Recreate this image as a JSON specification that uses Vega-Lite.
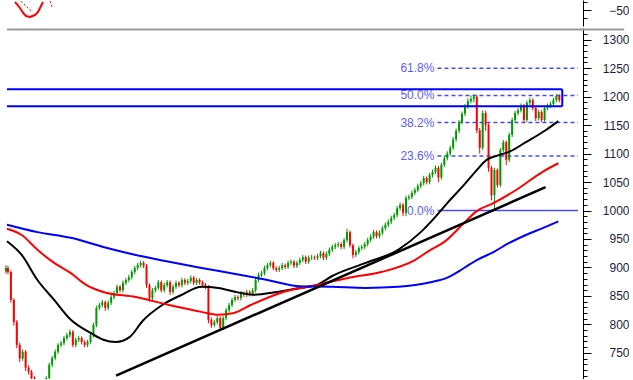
{
  "$schema": "https://vega.github.io/schema/vega-lite/v6.json",
  "background": "white",
  "padding": 0,
  "spacing": 2,
  "config": {"view": {"stroke": null}},
  "datasets": {
    "osc": [
      {"s": "main", "t": 15, "v": -40}, {"s": "main", "t": 16.5, "v": -42}, {"s": "main", "t": 20, "v": -47.5}, {"s": "main", "t": 23, "v": -53.5}, {"s": "main", "t": 26, "v": -57.5}, {"s": "main", "t": 30, "v": -58.8}, {"s": "main", "t": 35, "v": -56.2}, {"s": "main", "t": 38, "v": -52.5}, {"s": "main", "t": 41, "v": -45}, {"s": "main", "t": 43, "v": -40},
      {"s": "sig", "t": 21, "v": -39}, {"s": "sig", "t": 24, "v": -42.5}, {"s": "sig", "t": 29, "v": -49}, {"s": "sig", "t": 33, "v": -52.5},
      {"s": "sig2", "t": 50, "v": -39}, {"s": "sig2", "t": 52, "v": -46}
    ],
    "candles": [
      {"t":1,"o":893,"c":899,"h":904,"l":889},{"t":3,"o":899,"c":892,"h":903,"l":888},{"t":6,"o":892,"c":843,"h":895,"l":838},{"t":9,"o":843,"c":804,"h":846,"l":798},{"t":12,"o":804,"c":764,"h":808,"l":758},{"t":15,"o":764,"c":740,"h":768,"l":734},{"t":18,"o":740,"c":752,"h":756,"l":736},{"t":21,"o":752,"c":724,"h":755,"l":718},{"t":24,"o":724,"c":717,"h":728,"l":712},{"t":27,"o":717,"c":706,"h":720,"l":700},{"t":30,"o":706,"c":694,"h":709,"l":688},{"t":33,"o":694,"c":688,"h":698,"l":682},{"t":36,"o":688,"c":685,"h":692,"l":680},{"t":39,"o":685,"c":694,"h":698,"l":681},{"t":42,"o":694,"c":706,"h":709,"l":690},{"t":45,"o":706,"c":729,"h":733,"l":702},{"t":48,"o":729,"c":741,"h":745,"l":725},{"t":51,"o":741,"c":752,"h":756,"l":737},{"t":54,"o":752,"c":764,"h":767,"l":748},{"t":57,"o":764,"c":767,"h":771,"l":760},{"t":60,"o":767,"c":776,"h":780,"l":763},{"t":63,"o":776,"c":781,"h":785,"l":772},{"t":66,"o":781,"c":787,"h":791,"l":777},{"t":69,"o":787,"c":764,"h":790,"l":760},{"t":72,"o":764,"c":773,"h":777,"l":760},{"t":75,"o":773,"c":776,"h":780,"l":769},{"t":78,"o":776,"c":769,"h":779,"l":765},{"t":81,"o":769,"c":764,"h":772,"l":760},{"t":84,"o":764,"c":769,"h":773,"l":760},{"t":87,"o":769,"c":781,"h":785,"l":766},{"t":90,"o":781,"c":799,"h":803,"l":777},{"t":93,"o":799,"c":829,"h":833,"l":795},{"t":96,"o":829,"c":834,"h":838,"l":825},{"t":99,"o":834,"c":839,"h":843,"l":830},{"t":102,"o":839,"c":829,"h":842,"l":824},{"t":105,"o":829,"c":838,"h":842,"l":825},{"t":108,"o":838,"c":848,"h":852,"l":834},{"t":111,"o":848,"c":855,"h":859,"l":844},{"t":114,"o":855,"c":866,"h":870,"l":851},{"t":117,"o":866,"c":860,"h":869,"l":856},{"t":120,"o":860,"c":873,"h":877,"l":856},{"t":123,"o":873,"c":878,"h":882,"l":869},{"t":126,"o":878,"c":883,"h":887,"l":874},{"t":129,"o":883,"c":892,"h":896,"l":879},{"t":132,"o":892,"c":899,"h":903,"l":888},{"t":135,"o":899,"c":904,"h":908,"l":895},{"t":138,"o":904,"c":908,"h":912,"l":900},{"t":141,"o":908,"c":903,"h":911,"l":899},{"t":144,"o":903,"c":869,"h":906,"l":864},{"t":147,"o":869,"c":846,"h":872,"l":840},{"t":150,"o":846,"c":860,"h":864,"l":842},{"t":153,"o":860,"c":864,"h":868,"l":856},{"t":156,"o":864,"c":874,"h":878,"l":860},{"t":159,"o":874,"c":860,"h":877,"l":856},{"t":162,"o":860,"c":869,"h":873,"l":856},{"t":165,"o":869,"c":874,"h":878,"l":865},{"t":168,"o":874,"c":857,"h":877,"l":852},{"t":171,"o":857,"c":866,"h":870,"l":853},{"t":174,"o":866,"c":873,"h":877,"l":862},{"t":177,"o":873,"c":869,"h":876,"l":865},{"t":180,"o":869,"c":878,"h":882,"l":865},{"t":183,"o":878,"c":873,"h":881,"l":869},{"t":186,"o":873,"c":876,"h":880,"l":869},{"t":189,"o":876,"c":882,"h":886,"l":872},{"t":192,"o":882,"c":873,"h":885,"l":869},{"t":195,"o":873,"c":878,"h":882,"l":869},{"t":198,"o":878,"c":874,"h":881,"l":870},{"t":201,"o":874,"c":869,"h":877,"l":865},{"t":204,"o":869,"c":866,"h":873,"l":862},{"t":207,"o":866,"c":808,"h":869,"l":802},{"t":210,"o":808,"c":799,"h":812,"l":794},{"t":213,"o":799,"c":804,"h":808,"l":795},{"t":216,"o":804,"c":811,"h":815,"l":800},{"t":219,"o":811,"c":794,"h":814,"l":789},{"t":222,"o":794,"c":811,"h":815,"l":790},{"t":225,"o":811,"c":825,"h":829,"l":807},{"t":228,"o":825,"c":834,"h":838,"l":821},{"t":231,"o":834,"c":843,"h":847,"l":830},{"t":234,"o":843,"c":848,"h":852,"l":839},{"t":237,"o":848,"c":846,"h":851,"l":842},{"t":240,"o":846,"c":855,"h":859,"l":842},{"t":243,"o":855,"c":852,"h":858,"l":848},{"t":246,"o":852,"c":857,"h":861,"l":848},{"t":249,"o":857,"c":853,"h":860,"l":849},{"t":252,"o":853,"c":860,"h":864,"l":849},{"t":255,"o":860,"c":878,"h":882,"l":856},{"t":258,"o":878,"c":887,"h":891,"l":874},{"t":261,"o":887,"c":890,"h":894,"l":883},{"t":264,"o":890,"c":899,"h":903,"l":886},{"t":267,"o":899,"c":904,"h":908,"l":895},{"t":270,"o":904,"c":908,"h":912,"l":900},{"t":273,"o":908,"c":899,"h":911,"l":895},{"t":276,"o":899,"c":896,"h":902,"l":892},{"t":279,"o":896,"c":899,"h":903,"l":892},{"t":282,"o":899,"c":904,"h":908,"l":895},{"t":285,"o":904,"c":901,"h":907,"l":897},{"t":288,"o":901,"c":908,"h":912,"l":897},{"t":291,"o":908,"c":910,"h":914,"l":904},{"t":294,"o":910,"c":903,"h":913,"l":899},{"t":297,"o":903,"c":908,"h":912,"l":899},{"t":300,"o":908,"c":913,"h":917,"l":904},{"t":303,"o":913,"c":918,"h":922,"l":909},{"t":306,"o":918,"c":910,"h":921,"l":906},{"t":309,"o":910,"c":917,"h":921,"l":906},{"t":312,"o":917,"c":918,"h":922,"l":913},{"t":315,"o":918,"c":917,"h":921,"l":913},{"t":318,"o":917,"c":920,"h":924,"l":913},{"t":321,"o":920,"c":925,"h":929,"l":916},{"t":324,"o":925,"c":917,"h":928,"l":913},{"t":327,"o":917,"c":924,"h":928,"l":913},{"t":330,"o":924,"c":931,"h":935,"l":920},{"t":333,"o":931,"c":936,"h":940,"l":927},{"t":336,"o":936,"c":939,"h":943,"l":932},{"t":339,"o":939,"c":941,"h":945,"l":935},{"t":342,"o":941,"c":936,"h":944,"l":932},{"t":345,"o":936,"c":948,"h":952,"l":932},{"t":348,"o":948,"c":962,"h":968,"l":944},{"t":351,"o":962,"c":939,"h":965,"l":935},{"t":354,"o":939,"c":922,"h":942,"l":916},{"t":357,"o":922,"c":927,"h":931,"l":918},{"t":360,"o":927,"c":934,"h":938,"l":923},{"t":363,"o":934,"c":936,"h":940,"l":930},{"t":366,"o":936,"c":941,"h":945,"l":932},{"t":369,"o":941,"c":948,"h":952,"l":937},{"t":372,"o":948,"c":954,"h":958,"l":944},{"t":375,"o":954,"c":962,"h":966,"l":950},{"t":378,"o":962,"c":955,"h":965,"l":951},{"t":381,"o":955,"c":961,"h":965,"l":951},{"t":384,"o":961,"c":969,"h":973,"l":957},{"t":387,"o":969,"c":975,"h":979,"l":965},{"t":390,"o":975,"c":980,"h":984,"l":971},{"t":393,"o":980,"c":987,"h":991,"l":976},{"t":396,"o":987,"c":992,"h":996,"l":983},{"t":399,"o":992,"c":1004,"h":1008,"l":988},{"t":402,"o":1004,"c":1010,"h":1014,"l":1000},{"t":405,"o":1010,"c":996,"h":1013,"l":990},{"t":408,"o":996,"c":1022,"h":1026,"l":990},{"t":411,"o":1022,"c":1024,"h":1028,"l":1018},{"t":414,"o":1024,"c":1031,"h":1035,"l":1020},{"t":417,"o":1031,"c":1036,"h":1040,"l":1027},{"t":420,"o":1036,"c":1043,"h":1047,"l":1032},{"t":423,"o":1043,"c":1048,"h":1052,"l":1039},{"t":426,"o":1048,"c":1057,"h":1061,"l":1044},{"t":429,"o":1057,"c":1050,"h":1060,"l":1046},{"t":432,"o":1050,"c":1062,"h":1066,"l":1046},{"t":435,"o":1062,"c":1068,"h":1072,"l":1058},{"t":438,"o":1068,"c":1075,"h":1079,"l":1064},{"t":441,"o":1075,"c":1058,"h":1078,"l":1050},{"t":444,"o":1058,"c":1080,"h":1084,"l":1054},{"t":447,"o":1080,"c":1092,"h":1096,"l":1076},{"t":450,"o":1092,"c":1100,"h":1104,"l":1088},{"t":453,"o":1100,"c":1110,"h":1114,"l":1096},{"t":456,"o":1110,"c":1125,"h":1129,"l":1106},{"t":459,"o":1125,"c":1140,"h":1144,"l":1121},{"t":462,"o":1140,"c":1155,"h":1159,"l":1136},{"t":465,"o":1155,"c":1170,"h":1174,"l":1151},{"t":468,"o":1170,"c":1183,"h":1187,"l":1166},{"t":471,"o":1183,"c":1192,"h":1197,"l":1179},{"t":474,"o":1192,"c":1196,"h":1202,"l":1188},{"t":477,"o":1196,"c":1200,"h":1204,"l":1190},{"t":480,"o":1200,"c":1141,"h":1203,"l":1136},{"t":483,"o":1141,"c":1110,"h":1145,"l":1100},{"t":486,"o":1110,"c":1171,"h":1176,"l":1106},{"t":489,"o":1171,"c":1150,"h":1175,"l":1140},{"t":492,"o":1150,"c":1075,"h":1153,"l":1068},{"t":495,"o":1075,"c":1027,"h":1078,"l":1018},{"t":498,"o":1027,"c":1071,"h":1075,"l":1000},{"t":501,"o":1071,"c":1045,"h":1074,"l":1040},{"t":504,"o":1045,"c":1106,"h":1110,"l":1041},{"t":507,"o":1106,"c":1120,"h":1124,"l":1102},{"t":510,"o":1120,"c":1089,"h":1123,"l":1080},{"t":513,"o":1089,"c":1133,"h":1137,"l":1085},{"t":516,"o":1133,"c":1159,"h":1163,"l":1129},{"t":519,"o":1159,"c":1171,"h":1175,"l":1155},{"t":522,"o":1171,"c":1176,"h":1180,"l":1167},{"t":525,"o":1176,"c":1184,"h":1188,"l":1172},{"t":528,"o":1184,"c":1159,"h":1187,"l":1154},{"t":531,"o":1159,"c":1189,"h":1193,"l":1155},{"t":534,"o":1189,"c":1194,"h":1198,"l":1185},{"t":537,"o":1194,"c":1180,"h":1197,"l":1176},{"t":540,"o":1180,"c":1162,"h":1183,"l":1157},{"t":543,"o":1162,"c":1173,"h":1177,"l":1158},{"t":546,"o":1173,"c":1159,"h":1176,"l":1155},{"t":549,"o":1159,"c":1180,"h":1184,"l":1155},{"t":552,"o":1180,"c":1184,"h":1188,"l":1176},{"t":555,"o":1184,"c":1187,"h":1191,"l":1180},{"t":558,"o":1187,"c":1194,"h":1198,"l":1183},{"t":561,"o":1194,"c":1201,"h":1205,"l":1190},{"t":564,"o":1201,"c":1194,"h":1204,"l":1190}
    ],
    "ma": [
      {"s":"ma50","t":2,"v":946},{"s":"ma50","t":17,"v":922},{"s":"ma50","t":33,"v":878},{"s":"ma50","t":50,"v":843},{"s":"ma50","t":67,"v":808},{"s":"ma50","t":87,"v":785},{"s":"ma50","t":100,"v":773},{"s":"ma50","t":113,"v":769},{"s":"ma50","t":127,"v":778},{"s":"ma50","t":140,"v":806},{"s":"ma50","t":160,"v":834},{"s":"ma50","t":180,"v":852},{"s":"ma50","t":200,"v":866},{"s":"ma50","t":217,"v":864},{"s":"ma50","t":235,"v":857},{"s":"ma50","t":253,"v":852},{"s":"ma50","t":277,"v":857},{"s":"ma50","t":300,"v":864},{"s":"ma50","t":317,"v":869},{"s":"ma50","t":333,"v":885},{"s":"ma50","t":367,"v":908},{"s":"ma50","t":400,"v":931},{"s":"ma50","t":423,"v":962},{"s":"ma50","t":437,"v":987},{"s":"ma50","t":450,"v":1013},{"s":"ma50","t":467,"v":1045},{"s":"ma50","t":480,"v":1071},{"s":"ma50","t":490,"v":1089},{"s":"ma50","t":500,"v":1096},{"s":"ma50","t":513,"v":1103},{"s":"ma50","t":530,"v":1120},{"s":"ma50","t":550,"v":1141},{"s":"ma50","t":563,"v":1157},
      {"s":"ma100","t":2,"v":968},{"s":"ma100","t":17,"v":957},{"s":"ma100","t":33,"v":931},{"s":"ma100","t":50,"v":908},{"s":"ma100","t":67,"v":890},{"s":"ma100","t":83,"v":869},{"s":"ma100","t":100,"v":857},{"s":"ma100","t":133,"v":848},{"s":"ma100","t":167,"v":834},{"s":"ma100","t":200,"v":822},{"s":"ma100","t":217,"v":817},{"s":"ma100","t":233,"v":820},{"s":"ma100","t":250,"v":834},{"s":"ma100","t":283,"v":857},{"s":"ma100","t":317,"v":869},{"s":"ma100","t":350,"v":882},{"s":"ma100","t":383,"v":892},{"s":"ma100","t":417,"v":913},{"s":"ma100","t":433,"v":931},{"s":"ma100","t":447,"v":945},{"s":"ma100","t":467,"v":978},{"s":"ma100","t":480,"v":999},{"s":"ma100","t":497,"v":1013},{"s":"ma100","t":520,"v":1036},{"s":"ma100","t":547,"v":1068},{"s":"ma100","t":563,"v":1083},
      {"s":"ma200","t":2,"v":975},{"s":"ma200","t":33,"v":962},{"s":"ma200","t":67,"v":952},{"s":"ma200","t":100,"v":936},{"s":"ma200","t":133,"v":922},{"s":"ma200","t":167,"v":910},{"s":"ma200","t":200,"v":899},{"s":"ma200","t":233,"v":889},{"s":"ma200","t":267,"v":878},{"s":"ma200","t":300,"v":867},{"s":"ma200","t":333,"v":866},{"s":"ma200","t":367,"v":864},{"s":"ma200","t":400,"v":866},{"s":"ma200","t":433,"v":874},{"s":"ma200","t":450,"v":882},{"s":"ma200","t":467,"v":899},{"s":"ma200","t":480,"v":913},{"s":"ma200","t":497,"v":927},{"s":"ma200","t":513,"v":943},{"s":"ma200","t":530,"v":957},{"s":"ma200","t":547,"v":969},{"s":"ma200","t":563,"v":981}
    ],
    "trend": [{"t": 113, "v": 710}, {"t": 550, "v": 1041}],
    "fib": [
      {"lvl": "61.8%", "v": 1250, "t0": 440, "t1": 583, "kind": "dash"},
      {"lvl": "50.0%", "v": 1202, "t0": 440, "t1": 583, "kind": "dash"},
      {"lvl": "38.2%", "v": 1154.5, "t0": 440, "t1": 583, "kind": "dash"},
      {"lvl": "23.6%", "v": 1095.5, "t0": 440, "t1": 583, "kind": "dash"},
      {"lvl": "0.0%", "v": 1000, "t0": 440, "t1": 583, "kind": "solid"}
    ],
    "box": [
      {"edge": "top", "t0": 2, "t1": 567, "lo": 1213, "hi": 1213},
      {"edge": "bottom", "t0": 2, "t1": 567, "lo": 1183, "hi": 1183},
      {"edge": "right", "t0": 567, "t1": 567, "lo": 1183, "hi": 1213}
    ]
  },
  "vconcat": [
    {
      "width": 583,
      "height": 26,
      "data": {"name": "osc"},
      "encoding": {
        "x": {"field": "t", "type": "quantitative", "scale": {"domain": [0, 583], "nice": false, "zero": false}, "axis": null},
        "y": {"field": "v", "type": "quantitative", "scale": {"domain": [-70, -37.5], "nice": false, "zero": false, "clamp": true},
          "axis": {"orient": "right", "values": [-40, -50, -60], "title": null, "grid": false, "format": "d",
            "labelExpr": "datum.value === -50 ? datum.label : ''",
            "labelFontSize": {"condition": {"test": "datum.value === -50", "value": 12}, "value": 0},
            "tickSize": {"condition": {"test": "datum.value === -50", "value": 8}, "value": 4},
            "labelAlign": "right", "labelPadding": 38, "labelFont": "Liberation Sans", "labelColor": "#1c1c3c",
            "domainColor": "#000000", "tickColor": "#000000", "labelOverlap": false}}
      },
      "layer": [
        {
          "transform": [{"filter": "datum.s === 'main'"}],
          "mark": {"type": "line", "color": "#ff0000", "strokeWidth": 2, "strokeJoin": "round", "clip": true}
        },
        {
          "transform": [{"filter": "datum.s !== 'main'"}],
          "mark": {"type": "line", "color": "#ff0000", "strokeWidth": 1, "strokeDash": [2, 2], "strokeJoin": "round", "clip": true},
          "encoding": {"detail": {"field": "s"}}
        }
      ]
    },
    {
      "width": 583,
      "height": 351,
      "encoding": {
        "x": {"type": "quantitative", "scale": {"domain": [0, 583], "nice": false, "zero": false}, "axis": null},
        "y": {"type": "quantitative", "scale": {"domain": [704.1, 1320.5], "nice": false, "zero": false, "clamp": true},
          "axis": {"orient": "right", "title": null, "grid": false, "format": "d",
            "values": [710,720,730,740,750,760,770,780,790,800,810,820,830,840,850,860,870,880,890,900,910,920,930,940,950,960,970,980,990,1000,1010,1020,1030,1040,1050,1060,1070,1080,1090,1100,1110,1120,1130,1140,1150,1160,1170,1180,1190,1200,1210,1220,1230,1240,1250,1260,1270,1280,1290,1300,1310],
            "labelExpr": "datum.value % 50 === 0 ? datum.label : ''",
            "labelFontSize": {"condition": {"test": "datum.value % 50 === 0", "value": 12}, "value": 0},
            "tickSize": {"condition": {"test": "datum.value % 50 === 0", "value": 8}, "value": 4},
            "labelAlign": "right", "labelPadding": 38, "labelFont": "Liberation Sans", "labelColor": "#1c1c3c",
            "domainColor": "#000000", "tickColor": "#000000", "labelOverlap": false}}
      },
      "layer": [
        {
          "data": {"name": "fib"},
          "mark": {"type": "rule", "strokeWidth": 1.5, "color": "#4a4af5", "clip": true},
          "encoding": {
            "x": {"field": "t0", "type": "quantitative"},
            "x2": {"field": "t1"},
            "y": {"field": "v", "type": "quantitative"},
            "strokeDash": {"field": "kind", "type": "nominal", "scale": {"domain": ["dash", "solid"], "range": [[4, 3], [1, 0]]}, "legend": null}
          }
        },
        {
          "data": {"name": "fib"},
          "mark": {"type": "text", "align": "right", "baseline": "middle", "dx": -3, "font": "Liberation Sans", "fontSize": 12, "color": "#5c5cf5"},
          "encoding": {
            "x": {"field": "t0", "type": "quantitative"},
            "y": {"field": "v", "type": "quantitative"},
            "text": {"field": "lvl"}
          }
        },
        {
          "data": {"name": "candles"},
          "mark": {"type": "rule", "strokeWidth": 1, "clip": true},
          "encoding": {
            "x": {"field": "t", "type": "quantitative"},
            "y": {"field": "l", "type": "quantitative"},
            "y2": {"field": "h"},
            "color": {"condition": {"test": "datum.c >= datum.o", "value": "#009a00"}, "value": "#ff0000"}
          }
        },
        {
          "data": {"name": "candles"},
          "mark": {"type": "bar", "width": 2, "clip": true},
          "encoding": {
            "x": {"field": "t", "type": "quantitative"},
            "y": {"field": "o", "type": "quantitative"},
            "y2": {"field": "c"},
            "color": {"condition": {"test": "datum.c >= datum.o", "value": "#009a00"}, "value": "#ff0000"}
          }
        },
        {
          "data": {"name": "ma"},
          "mark": {"type": "line", "strokeWidth": 2, "strokeJoin": "round", "interpolate": "monotone", "clip": true},
          "encoding": {
            "x": {"field": "t", "type": "quantitative"},
            "y": {"field": "v", "type": "quantitative"},
            "color": {"field": "s", "type": "nominal", "scale": {"domain": ["ma50", "ma100", "ma200"], "range": ["#000000", "#ff0000", "#0000ff"]}, "legend": null}
          }
        },
        {
          "data": {"name": "trend"},
          "mark": {"type": "line", "strokeWidth": 2.5, "strokeJoin": "round", "color": "#000000", "clip": true},
          "encoding": {
            "x": {"field": "t", "type": "quantitative"},
            "y": {"field": "v", "type": "quantitative"}
          }
        },
        {
          "data": {"name": "box"},
          "mark": {"type": "rule", "color": "#0000ff", "strokeWidth": 2, "clip": true},
          "encoding": {
            "x": {"field": "t0", "type": "quantitative"},
            "x2": {"field": "t1"},
            "y": {"field": "lo", "type": "quantitative"},
            "y2": {"field": "hi"}
          }
        },
        {
          "data": {"values": [{}]},
          "mark": {"type": "rule", "color": "#999999", "strokeWidth": 2},
          "encoding": {
            "x": {"datum": 2, "type": "quantitative"},
            "x2": {"datum": 630},
            "y": {"datum": 1318, "type": "quantitative"}
          }
        }
      ]
    }
  ]
}
